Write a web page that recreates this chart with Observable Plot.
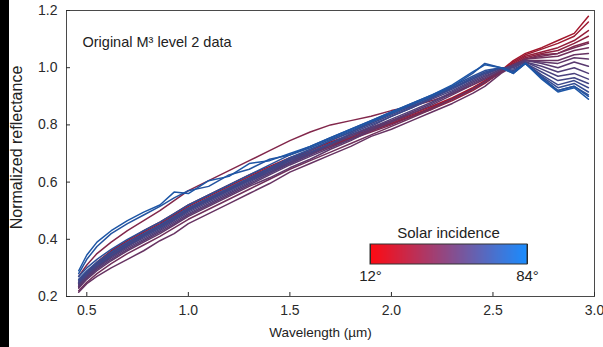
<!DOCTYPE html>
<html><head><meta charset="utf-8">
<script src="https://cdn.jsdelivr.net/npm/d3@7"></script>
<script src="https://cdn.jsdelivr.net/npm/@observablehq/plot@0.6"></script>
<style>
body{margin:0;background:#fff;font-family:"Liberation Sans",Arial,sans-serif;}
#wrap{position:relative;width:603px;height:347px;overflow:hidden;background:#fff}
#strip{position:absolute;left:0;top:0;width:9px;height:347px;background:#000}
#chart{position:absolute;left:0;top:0}
#legend{position:absolute;left:360px;top:242px}
#ltitle{position:absolute;left:370px;width:157px;top:224px;text-align:center;font-size:15px;color:#222}
</style></head><body>
<div id="wrap"><div id="chart"></div><div id="strip"></div><div id="ltitle">Solar incidence</div><div id="legend"></div></div>
<script>
const wavelengths = [0.46,0.50,0.55,0.62,0.70,0.78,0.86,0.93,1.00,1.10,1.20,1.30,1.40,1.50,1.60,1.70,1.80,1.90,2.00,2.10,2.20,2.30,2.40,2.46,2.54,2.60,2.66,2.74,2.82,2.90,2.97];
const angles = [12,16,20,24,30,36,40,44,48,52,56,60,64,68,72,76,80,84];
const s12 = [0.25,0.285,0.32,0.36,0.395,0.43,0.46,0.49,0.52,0.555,0.59,0.625,0.655,0.685,0.71,0.74,0.765,0.79,0.815,0.84,0.865,0.895,0.93,0.955,0.99,1.025,1.05,1.07,1.095,1.12,1.18];
const s16 = [0.245,0.28,0.315,0.355,0.39,0.425,0.455,0.485,0.515,0.55,0.585,0.62,0.65,0.68,0.705,0.735,0.76,0.785,0.81,0.835,0.86,0.89,0.925,0.95,0.985,1.02,1.045,1.065,1.085,1.11,1.16];
const s20 = [0.24,0.275,0.31,0.35,0.385,0.42,0.45,0.48,0.51,0.545,0.58,0.615,0.645,0.675,0.70,0.73,0.755,0.78,0.805,0.83,0.855,0.885,0.92,0.945,0.985,1.015,1.04,1.055,1.07,1.095,1.13];
const s24 = [0.235,0.27,0.305,0.345,0.38,0.415,0.445,0.475,0.505,0.54,0.575,0.61,0.64,0.67,0.70,0.725,0.755,0.78,0.805,0.83,0.86,0.89,0.925,0.95,0.985,1.01,1.035,1.05,1.06,1.085,1.11];
const s30 = [0.27,0.31,0.35,0.39,0.43,0.465,0.50,0.535,0.57,0.605,0.64,0.675,0.71,0.745,0.775,0.80,0.815,0.83,0.85,0.865,0.885,0.91,0.94,0.96,0.99,1.01,1.03,1.045,1.05,1.075,1.09];
const s36 = [0.23,0.265,0.30,0.34,0.375,0.41,0.44,0.47,0.50,0.535,0.57,0.605,0.635,0.665,0.695,0.725,0.75,0.775,0.80,0.83,0.86,0.89,0.925,0.95,0.985,1.01,1.03,1.04,1.05,1.07,1.085];
const s40 = [0.22,0.25,0.28,0.315,0.35,0.38,0.41,0.44,0.47,0.505,0.54,0.575,0.61,0.645,0.675,0.705,0.735,0.765,0.795,0.825,0.855,0.89,0.925,0.95,0.985,1.01,1.03,1.035,1.04,1.06,1.07];
const s44 = [0.215,0.245,0.27,0.30,0.33,0.36,0.395,0.42,0.455,0.49,0.525,0.56,0.595,0.635,0.665,0.695,0.725,0.76,0.785,0.815,0.845,0.875,0.91,0.935,0.98,1.005,1.025,1.025,1.025,1.045,1.05];
const s48 = [0.23,0.26,0.29,0.325,0.36,0.39,0.42,0.45,0.48,0.515,0.55,0.585,0.615,0.65,0.68,0.715,0.745,0.78,0.81,0.84,0.87,0.905,0.94,0.96,0.99,1.01,1.025,1.02,1.015,1.035,1.03];
const s52 = [0.235,0.265,0.295,0.33,0.365,0.395,0.425,0.455,0.485,0.52,0.555,0.59,0.625,0.66,0.69,0.72,0.75,0.785,0.815,0.845,0.875,0.91,0.945,0.965,0.995,1.01,1.025,1.015,1.0,1.02,1.005];
const s56 = [0.24,0.27,0.30,0.335,0.37,0.40,0.43,0.46,0.49,0.525,0.56,0.595,0.63,0.665,0.695,0.73,0.76,0.79,0.82,0.85,0.88,0.915,0.95,0.97,0.995,1.005,1.02,1.005,0.985,1.0,0.98];
const s60 = [0.245,0.275,0.305,0.34,0.375,0.405,0.435,0.465,0.495,0.53,0.565,0.60,0.635,0.67,0.70,0.735,0.765,0.795,0.83,0.86,0.89,0.92,0.955,0.975,1.0,1.0,1.02,0.995,0.97,0.98,0.96];
const s64 = [0.255,0.285,0.315,0.35,0.385,0.415,0.445,0.475,0.505,0.54,0.575,0.61,0.645,0.68,0.71,0.745,0.775,0.805,0.835,0.865,0.895,0.93,0.96,0.98,1.0,0.995,1.015,0.985,0.955,0.965,0.945];
const s68 = [0.25,0.28,0.31,0.345,0.38,0.41,0.44,0.47,0.50,0.535,0.57,0.605,0.64,0.675,0.705,0.735,0.77,0.80,0.83,0.86,0.895,0.925,0.96,0.98,1.0,0.99,1.015,0.975,0.94,0.955,0.93];
const s72 = [0.26,0.29,0.32,0.355,0.39,0.42,0.45,0.48,0.51,0.545,0.58,0.615,0.65,0.685,0.715,0.745,0.775,0.81,0.84,0.87,0.90,0.93,0.965,0.985,1.0,0.985,1.015,0.97,0.93,0.945,0.915];
const s76 = [0.27,0.30,0.33,0.365,0.40,0.43,0.46,0.49,0.52,0.555,0.59,0.625,0.66,0.695,0.725,0.755,0.785,0.815,0.845,0.875,0.905,0.935,0.97,0.99,1.0,0.98,1.015,0.965,0.92,0.935,0.905];
const s80 = [0.28,0.33,0.375,0.42,0.455,0.485,0.515,0.545,0.57,0.585,0.625,0.645,0.68,0.695,0.72,0.75,0.78,0.81,0.84,0.87,0.90,0.935,0.98,1.015,1.0,0.985,1.015,0.965,0.92,0.935,0.90];
const s84 = [0.29,0.345,0.39,0.43,0.465,0.495,0.52,0.565,0.56,0.605,0.62,0.665,0.675,0.70,0.725,0.755,0.785,0.815,0.845,0.875,0.905,0.94,0.985,1.01,1.0,0.98,1.015,0.96,0.915,0.93,0.89];
const spectra = [s12,s16,s20,s24,s30,s36,s40,s44,s48,s52,s56,s60,s64,s68,s72,s76,s80,s84];
const xTicks = [0.5,1.0,1.5,2.0,2.5,3.0];
const yTicks = [0.2,0.4,0.6,0.8,1.0,1.2];
const legendTicks = [12,84];
const lineColors = ["#a3172c","#1d56a6"];
const rampColors = ["#ff0a12","#1a8cff"];

const rows = spectra.flatMap((s,i)=> s.map((v,j)=>({angle:angles[i], w:wavelengths[j], r:v})));
const fmt = d3.format(".1f");
const font = "'Liberation Sans', Arial, sans-serif";

const chart = Plot.plot({
  width:603, height:347, marginLeft:66, marginRight:9, marginTop:10, marginBottom:51,
  style:{fontFamily:font, fontSize:"14px", color:"#2a2a2a", background:"transparent"},
  x:{domain:[0.4,3.0]},
  y:{domain:[0.2,1.2]},
  color:{type:"linear", domain:[12,84], range:lineColors, interpolate:"rgb"},
  marks:[
    Plot.line(rows,{x:"w", y:"r", z:"angle", stroke:"angle", strokeWidth:1.5}),
    Plot.frame({stroke:"#4a4a4a"}),
    Plot.axisX({ticks:xTicks, tickSize:-4, tickFormat:fmt, label:null, fontSize:14}),
    Plot.axisY({ticks:yTicks, tickSize:-4, tickFormat:fmt, label:null, fontSize:14}),
    Plot.text(["Wavelength (µm)"],{text:d=>d, frameAnchor:"bottom", dx:-10, dy:40, lineAnchor:"bottom", fontSize:13.5, fill:"#222"}),
    Plot.text(["Normalized reflectance"],{text:d=>d, frameAnchor:"left", rotate:-90, dx:-50, dy:-6, textAnchor:"middle", lineAnchor:"middle", fontSize:16, fill:"#222"}),
    Plot.text(["Original M³ level 2 data"],{text:d=>d, frameAnchor:"top-left", dx:16, dy:26, textAnchor:"start", lineAnchor:"top", fontSize:14.5, fill:"#222"})
  ]
});
document.getElementById("chart").appendChild(chart);

const legend = Plot.legend({
  color:{type:"linear", domain:[12,84], range:rampColors, interpolate:"rgb"},
  width:177, height:46, marginLeft:10, marginRight:10, marginTop:2, marginBottom:24,
  barHeight:20, ticks:legendTicks, tickSize:0, tickFormat:d=>d+"°",
  style:{fontFamily:font, fontSize:"15px", color:"#222", background:"transparent"}
});
document.getElementById("legend").appendChild(legend);
const svgL = d3.select(legend.tagName === "svg" ? legend : legend.querySelector("svg"));
const img = svgL.select("image");
if (!img.empty()) {
  svgL.append("rect").attr("x",img.attr("x")).attr("y",img.attr("y")).attr("width",img.attr("width")).attr("height",img.attr("height"))
    .attr("fill","none").attr("stroke","#333").attr("stroke-width",1);
}
svgL.selectAll(".tick text").attr("y",6);
</script>
</body></html>
